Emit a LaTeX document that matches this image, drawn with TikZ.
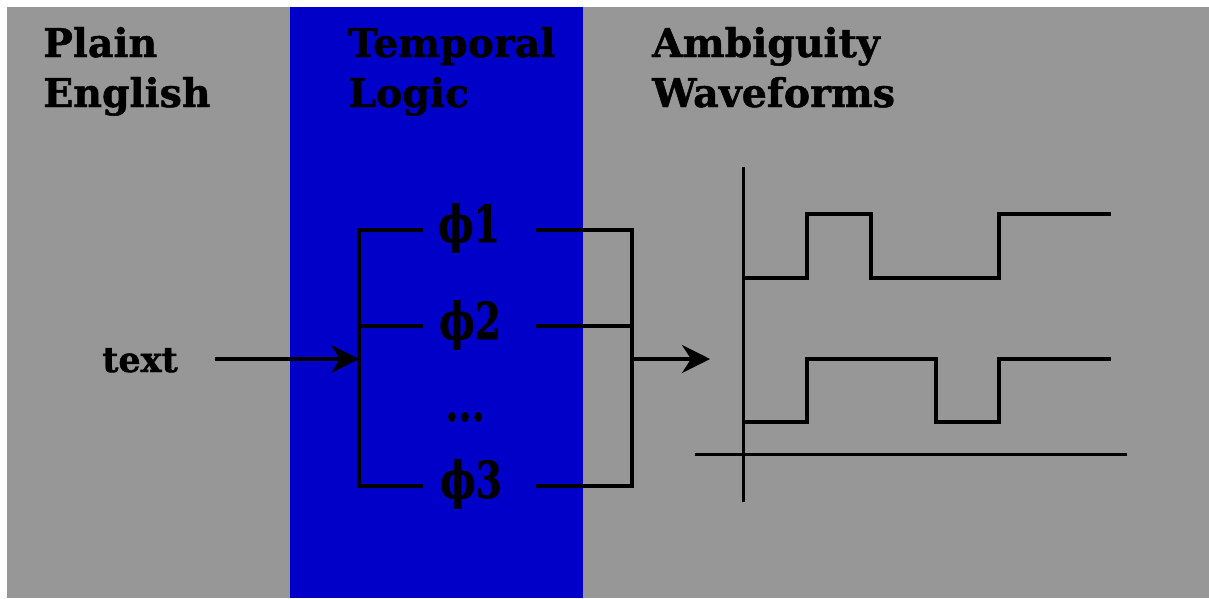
\documentclass[tikz,border=0pt]{standalone}
\usepackage{fontspec}
\setmainfont{DejaVu Serif}
\newfontfamily\heavyserif{DejaVu Serif Bold}[FakeBold=1.2]
\usetikzlibrary{arrows.meta}
\definecolor{bggray}{RGB}{151,151,151}
\definecolor{bandblue}{RGB}{0,0,200}
\newcommand{\narrowlbl}[1]{\scalebox{0.74}[1]{#1}}
\begin{document}
\begin{tikzpicture}[x=1pt,y=-1pt,
  heading/.style={anchor=base west,inner sep=0pt,font=\heavyserif\fontsize{39.5}{39.5}\selectfont},
  philabel/.style={anchor=base,inner sep=0pt,font=\heavyserif\fontsize{51}{51}\selectfont},
  wire/.style={line width=4.7pt,line cap=butt,line join=miter},
  arrowline/.style={line width=4pt,-{Stealth[length=28pt,width=28pt,inset=9pt]}},
  wave/.style={line width=4pt,line join=miter},
  axis/.style={line width=3pt}]
\useasboundingbox (0,0) rectangle (1209,598);
\fill[white] (0,0) rectangle (1209,598);
\fill[bggray] (7,7) rectangle (1209,598);
\fill[bandblue] (290,7) rectangle (583,598);
% headings
\node[heading] (plain) at (43,57) {Plain};
\node[heading] (english) at (43,107) {English};
\node[heading] (temporal) at (348,57) {Temporal};
\node[heading] (logic) at (348,107) {Logic};
\node[heading] (ambiguity) at (652,57) {Ambiguity};
\node[heading] (waveforms) at (652,107) {Waveforms};
% phi labels
\node[philabel] (p1) at (469,242) {\narrowlbl{ϕ1}};
\node[philabel] (p2) at (470,339) {\narrowlbl{ϕ2}};
\node[philabel] (pd) at (465,421) {\narrowlbl{...}};
\node[philabel] (p3) at (471,498) {\narrowlbl{ϕ3}};
\node[anchor=base,inner sep=0pt,font=\heavyserif\fontsize{35}{35}\selectfont] (txt) at (140,372) {text};
% bracket coordinates
\coordinate (lt) at (359,230);
\coordinate (lm) at (359,326);
\coordinate (lb) at (359,486);
\coordinate (lin) at (359,359);
\coordinate (rt) at (632,230);
\coordinate (rm) at (632,326);
\coordinate (rb) at (632,486);
\coordinate (rout) at (632,359);
\coordinate (src) at (215,359);
\coordinate (dst) at (710,359);
\draw[wire] (423,230) -- (lt) -- (lb) -- (423,486);
\draw[wire] (lm) -- (423,326);
\draw[wire] (536,230) -- (rt) -- (rb) -- (536,486);
\draw[wire] (536,326) -- (rm);
\draw[arrowline] (src) -- (lin);
\draw[arrowline] (rout) -- (dst);
% waveforms
\draw[axis] (743,167) -- (743,502);
\draw[axis] (695,454) -- (1127,454);
\draw[wave] (743,278) -- (807,278) -- (807,214) -- (871,214) -- (871,278) -- (999,278) -- (999,214) -- (1111,214);
\draw[wave] (743,422) -- (807,422) -- (807,359) -- (936,359) -- (936,422) -- (999,422) -- (999,359) -- (1111,359);
\end{tikzpicture}
\end{document}
